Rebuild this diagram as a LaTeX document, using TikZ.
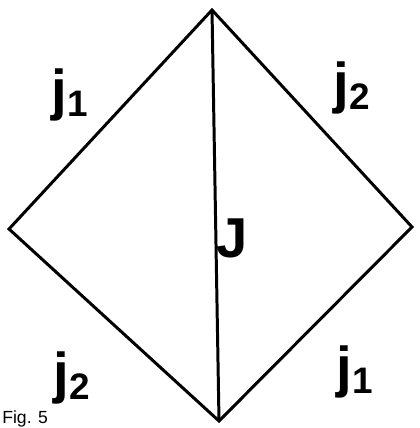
\documentclass[tikz,border=0pt]{standalone}
\usepackage{fontspec}
\setmainfont{Liberation Sans}
\begin{document}
\begin{tikzpicture}[x=0.02cm, y=-0.02cm,
			edge/.style={line width=1.7pt, line join=miter},
			lab/.style={font=\fontsize{32}{32}\selectfont\bfseries, inner sep=0pt}]
			\useasboundingbox (0,0) rectangle (419,428);
			\coordinate (T) at (212,10);
			\coordinate (L) at (9,229);
			\coordinate (R) at (412,227);
			\coordinate (B) at (219,421);
			% outer rhombus
			\draw[edge] (T)--(R)--(B)--(L)--cycle;
			% middle line
			\draw[edge] (T)--(B);
			% labels
			\node[lab] (j1a) at (70,95) {j\raisebox{-0.25ex}{\fontsize{21}{21}\selectfont 1}};
			\node[lab] (j2a) at (352,88) {j\raisebox{-0.25ex}{\fontsize{21}{21}\selectfont 2}};
			\node[lab] (J) at (232,238) {J};
			\node[lab] (j2b) at (72,378) {j\raisebox{-0.25ex}{\fontsize{21}{21}\selectfont 2}};
			\node[lab] (j1b) at (355,372) {j\raisebox{-0.25ex}{\fontsize{21}{21}\selectfont 1}};
			\node[font=\fontsize{10}{10}\selectfont, anchor=south west, inner sep=0pt] (fig) at (2,427) {Fig. 5};
		\end{tikzpicture}
\end{document}
